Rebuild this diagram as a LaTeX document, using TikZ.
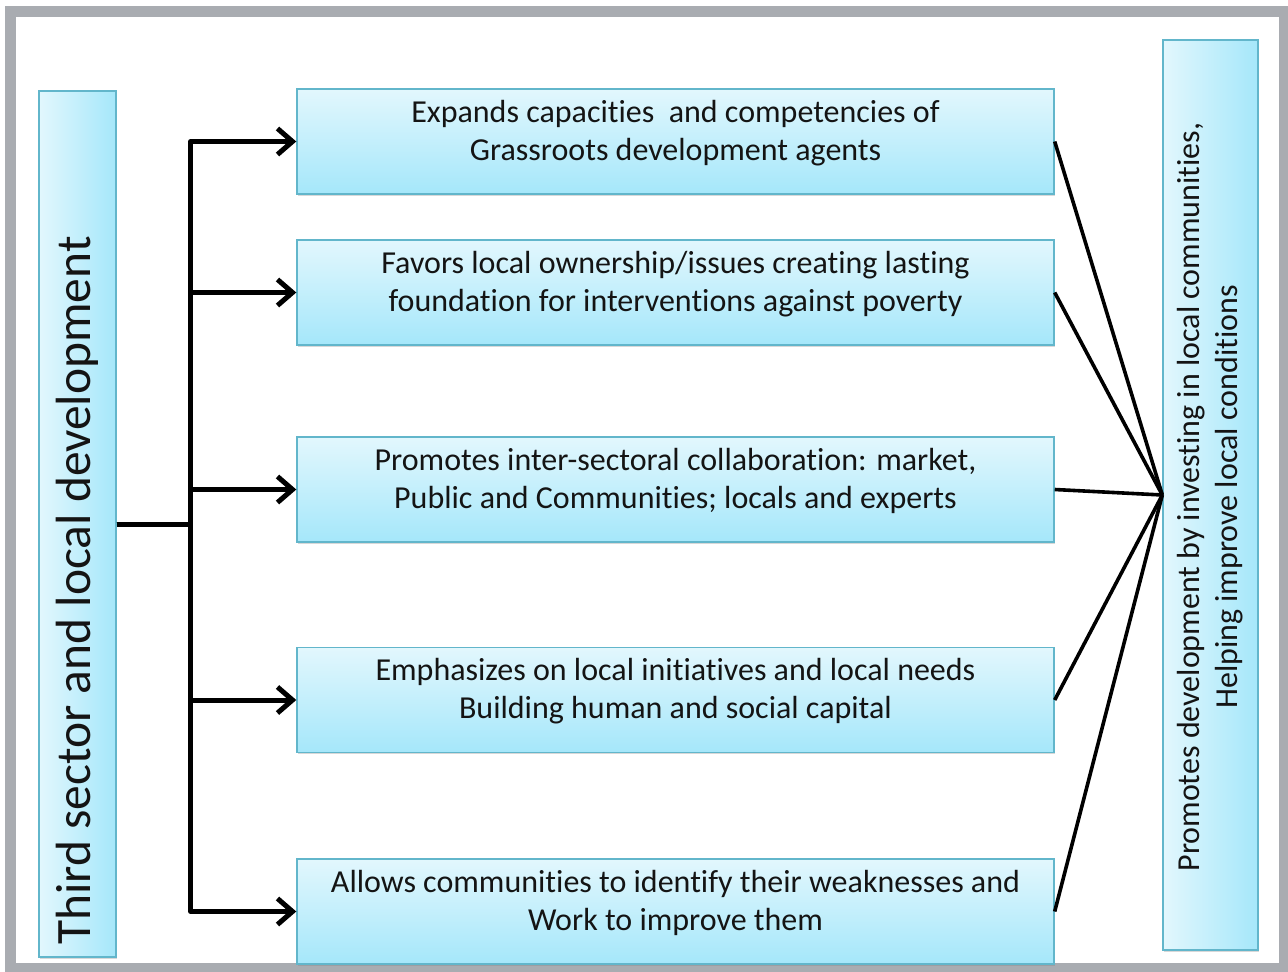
\documentclass[tikz,border=0pt]{standalone}
\usepackage{fontspec}
\setmainfont{Carlito}[Ligatures={NoCommon}]
\usetikzlibrary{arrows.meta,shadows}

\definecolor{boxtop}{HTML}{E2F7FD}
\definecolor{boxbottom}{HTML}{A5E7FA}
\definecolor{boxedge}{HTML}{62B6CB}
\definecolor{framegray}{HTML}{A9ACB1}
\definecolor{inktext}{HTML}{141414}

\tikzset{
  boxshade/.style={draw=boxedge, line width=1.4pt,
    drop shadow={shadow xshift=1.2pt, shadow yshift=-1.8pt, opacity=0.3}},
  hbox/.style={boxshade, top color=boxtop, bottom color=boxbottom,
    minimum width=757pt, minimum height=105pt, inner sep=0pt},
  vbox/.style={boxshade, left color=boxtop, right color=boxbottom, inner sep=0pt},
  boxtext/.style={align=center, text=inktext, inner sep=0pt,
    font=\fontsize{32}{38}\selectfont},
  feed/.style={line width=5pt, line join=round,
    -{Straight Barb[length=15pt, width=26pt, line width=5pt]}},
  spoke/.style={line width=3.6pt}
}

\begin{document}
\begin{tikzpicture}[x=1pt, y=-1pt]
  \useasboundingbox (0,0) rectangle (1288,972);
  % slide frame
  \fill[white] (0,0) rectangle (1288,972);
  \fill[framegray] (5,6) rectangle (1288,972);
  \fill[white] (16,17) rectangle (1279,963);

  % left and right columns
  \node[vbox, minimum width=77pt, minimum height=866pt] (L) at (77.5,524) {};
  \node[rotate=90, anchor=base west, text=inktext, inner sep=0pt,
        font=\fontsize{49.5}{58}\selectfont] (Ltext) at (90,945)
        {Third sector and local development};

  \node[vbox, minimum width=95pt, minimum height=910pt] (R) at (1210.5,495) {};
  \node[boxtext, rotate=90] (Rtext) at (1210,497)
        {Promotes development by investing in local communities,\\
         Helping improve local conditions};

  % middle boxes
  \node[hbox] (b1) at (675.5,141.5) {};
  \node[hbox] (b2) at (675.5,292.5) {};
  \node[hbox] (b3) at (675.5,489.5) {};
  \node[hbox] (b4) at (675.5,700) {};
  \node[hbox] (b5) at (675.5,911.5) {};

  \node[boxtext, yshift=8.5pt] (t1) at (b1.center)
    {Expands capacities~ and competencies of\\Grassroots development agents};
  \node[boxtext, yshift=8.5pt] (t2) at (b2.center)
    {Favors local ownership/issues creating lasting\\foundation for interventions against poverty};
  \node[boxtext, yshift=8.5pt] (t3) at (b3.center)
    {Promotes inter-sectoral collaboration: market,\\Public and Communities; locals and experts};
  \node[boxtext, yshift=8.5pt] (t4) at (b4.center)
    {Emphasizes on local initiatives and local needs\\Building human and social capital};
  \node[boxtext, yshift=8.5pt] (t5) at (b5.center)
    {Allows communities to identify their weaknesses and\\Work to improve them};

  % branching arrows from the left column
  \foreach \b in {b1,b2,b3,b4,b5}
    \draw[feed] (L.east) -- ++(74,0) |- (\b.west);

  % converging lines into the right column
  \foreach \b in {b1,b2,b3,b4,b5}
    \draw[spoke] (\b.east) -- (R.west);
\end{tikzpicture}
\end{document}
